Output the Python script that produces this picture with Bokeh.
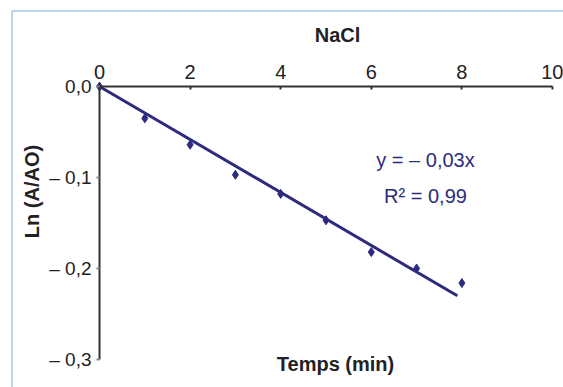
import math
from bokeh.plotting import figure
from bokeh.models import (Range1d, LinearAxis, FixedTicker, Label,
                          BoxAnnotation, ColumnDataSource)
from bokeh.embed import file_html
from bokeh.resources import INLINE

# ---- data ----
time_min = [0, 1, 2, 3, 4, 5, 6, 7, 8]
ln_ratio = [0.0, -0.035, -0.064, -0.097, -0.118, -0.147, -0.182, -0.200, -0.216]
trend_x = [0, 7.9]
trend_y = [0.0, -0.230]
x_ticks = [0, 2, 4, 6, 8, 10]
y_ticks = [0.0, -0.1, -0.2, -0.3]
y_tick_labels = ["0,0", "– 0,1", "– 0,2", "– 0,3"]
title_top = "NaCl"
title_bottom = "Temps (min)"
title_left = "Ln (A/AO)"
eq_text = "y = – 0,03x"
r2_text = "R² = 0,99"

NAVY = "#2d2b7e"
AXIS = "#333333"
BLUE = "#1c6fcf"
FONT = "Liberation Sans"

# pixel geometry: x=0 at px 99, 45.3 px/unit ; y=0 at px 86, 910 px/unit
W, H = 563, 387
x0, sx = 99.0, 45.3
y0, sy = 86.0, 910.0
def xd(px): return (px - x0) / sx
def yd(py): return (y0 - py) / sy

p = figure(width=W, height=H, output_backend="svg", toolbar_location=None,
           x_range=Range1d(xd(0), xd(W)), y_range=Range1d(yd(H), yd(0)),
           x_axis_location=None, y_axis_location=None, min_border=0)
p.outline_line_color = None
p.grid.visible = False
p.background_fill_color = "white"
p.border_fill_color = "white"

# outer frame lines (top and left only; right/bottom pushed off-canvas)
p.add_layout(BoxAnnotation(left=xd(11.5), top=yd(10.5), right=xd(W + 10),
                           bottom=yd(H + 10), fill_alpha=0,
                           line_color=BLUE, line_width=2))

# axes
xax = LinearAxis(fixed_location=0, bounds=(x_ticks[0], x_ticks[-1]),
                 ticker=FixedTicker(ticks=x_ticks))
xax.axis_line_color = AXIS
xax.axis_line_width = 2
xax.major_tick_in = 3
xax.major_tick_out = 0
xax.major_tick_line_color = AXIS
xax.major_tick_line_width = 2
xax.minor_tick_line_color = None
xax.major_label_text_font = FONT
xax.major_label_text_font_size = "20px"
xax.major_label_text_color = "#222222"
xax.major_label_standoff = 8
p.add_layout(xax, "above")

yax = LinearAxis(fixed_location=0, bounds=(y_ticks[-1], y_ticks[0]),
                 ticker=FixedTicker(ticks=y_ticks))
yax.major_label_overrides = {t: l for t, l in zip(y_ticks, y_tick_labels)}
yax.axis_line_color = AXIS
yax.axis_line_width = 2
yax.major_tick_in = 0
yax.major_tick_out = 3
yax.major_tick_line_color = "#888888"
yax.major_tick_line_width = 2
yax.minor_tick_line_color = None
yax.major_label_text_font = FONT
yax.major_label_text_font_size = "19px"
yax.major_label_text_color = "#222222"
yax.major_label_standoff = 5
p.add_layout(yax, "left")

# data
src = ColumnDataSource(dict(x=time_min, y=ln_ratio))
p.scatter("x", "y", source=src, marker="diamond", size=9,
          fill_color=NAVY, line_color=NAVY)
p.line(trend_x, trend_y, line_color=NAVY, line_width=3)

# titles
def lab(text, px, py, size, bold=True, color="#222222", angle=0.0):
    p.add_layout(Label(x=xd(px), y=yd(py), text=text, text_align="center",
                       text_baseline="middle", text_font=FONT,
                       text_font_size=size, text_color=color,
                       text_font_style="bold" if bold else "normal",
                       angle=angle))

lab(title_top, 337, 34, "20px")
lab(title_bottom, 335, 363, "20px")
lab(title_left, 31, 191, "20px", angle=math.pi / 2)
lab(eq_text, 425, 159, "20px", bold=False, color=NAVY)
lab(r2_text, 425, 195, "20px", bold=False, color=NAVY)

open("out.html", "w").write(file_html(p, INLINE))
